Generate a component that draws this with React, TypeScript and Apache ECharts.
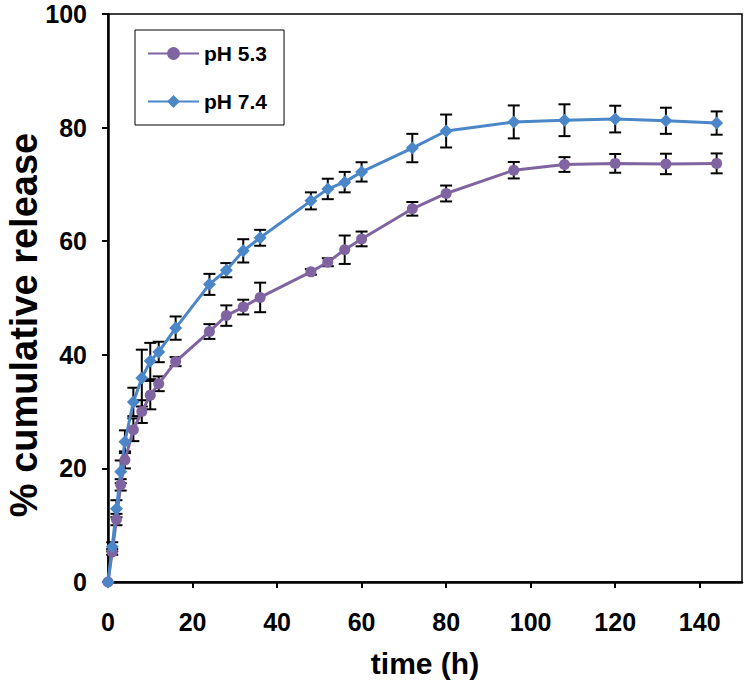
import React, { useEffect, useRef } from "react";
import * as echarts from "echarts";

const times = [0, 1, 2, 3, 4, 6, 8, 10, 12, 16, 24, 28, 32, 36, 48, 52, 56, 60, 72, 80, 96, 108, 120, 132, 144];
const ph53 = [0, 5.3, 11.0, 17.1, 21.5, 26.8, 30.0, 32.9, 34.9, 38.8, 44.1, 46.9, 48.4, 50.1, 54.6, 56.3, 58.5, 60.4, 65.7, 68.4, 72.5, 73.5, 73.7, 73.6, 73.7];
const ph53Err = [0, 0.5, 1.0, 1.0, 1.5, 2.0, 2.0, 2.5, 1.3, 0.8, 1.3, 1.8, 1.3, 2.6, 0.5, 0.7, 2.5, 1.3, 1.2, 1.4, 1.45, 1.3, 1.65, 1.8, 1.75];
const ph74 = [0, 6.2, 12.9, 19.4, 24.7, 31.7, 35.9, 38.9, 40.5, 44.7, 52.4, 54.9, 58.3, 60.6, 67.1, 69.2, 70.4, 72.2, 76.4, 79.4, 81.0, 81.3, 81.5, 81.2, 80.8];
const ph74Err = [0, 0.8, 1.5, 2.0, 2.0, 2.5, 5.0, 3.2, 1.8, 2.05, 1.85, 1.25, 2.05, 1.4, 1.5, 1.8, 1.8, 1.7, 2.5, 2.9, 2.9, 2.8, 2.35, 2.3, 2.05];
const xTicks = [0, 20, 40, 60, 80, 100, 120, 140];
const yTicks = [0, 20, 40, 60, 80, 100];

const PURPLE = "#8064A2";
const BLUE = "#4A86C8";
const FONT = "Liberation Sans, Arial, sans-serif";

function errorSeries(name: string, vals: number[], errs: number[]) {
  const data = times.map((t, i) => [t, vals[i] - errs[i], vals[i] + errs[i]]);
  return {
    type: "custom",
    name: name + " err",
    z: 1,
    silent: true,
    data,
    renderItem: (params: any, api: any) => {
      const x = api.value(0);
      const lo = api.coord([x, api.value(1)]);
      const hi = api.coord([x, api.value(2)]);
      const half = 6;
      const style = { stroke: "#000", lineWidth: 2 };
      return {
        type: "group",
        children: [
          { type: "line", shape: { x1: lo[0], y1: lo[1], x2: hi[0], y2: hi[1] }, style },
          { type: "line", shape: { x1: lo[0] - half, y1: lo[1], x2: lo[0] + half, y2: lo[1] }, style },
          { type: "line", shape: { x1: hi[0] - half, y1: hi[1], x2: hi[0] + half, y2: hi[1] }, style },
        ],
      };
    },
  };
}

export default function App() {
  const ref = useRef<HTMLDivElement>(null);
  useEffect(() => {
    if (!ref.current) return;
    const chart = echarts.init(ref.current, null, { renderer: "svg" });
    chart.setOption({
      animation: false,
      backgroundColor: "#fff",
      textStyle: { fontFamily: FONT },
      grid: {
        left: 108,
        right: 8,
        top: 14,
        bottom: 109,
        show: true,
        borderColor: "#000",
        borderWidth: 1.5,
        containLabel: false,
      },
      legend: {
        orient: "vertical",
        left: 135,
        top: 30,
        borderColor: "#000",
        borderWidth: 1,
        padding: [13, 17, 13, 12],
        itemWidth: 51,
        itemHeight: 16,
        itemGap: 27,
        textStyle: { fontFamily: FONT, fontWeight: "bold", fontSize: 21, color: "#000" },
        data: ["pH 5.3", "pH 7.4"],
      },
      xAxis: {
        type: "value",
        min: 0,
        max: 150,
        interval: 20,
        name: "time (h)",
        nameLocation: "middle",
        nameGap: 66,
        nameTextStyle: { fontFamily: FONT, fontWeight: "bold", fontSize: 30, color: "#000" },
        axisLine: { show: true, lineStyle: { color: "#000", width: 2.5 } },
        axisTick: { show: true, length: 6, lineStyle: { color: "#000", width: 2 }, customValues: xTicks },
        axisLabel: {
          fontFamily: FONT,
          fontWeight: "bold",
          fontSize: 25,
          color: "#000",
          margin: 27,
          customValues: xTicks,
        },
        splitLine: { show: false },
      },
      yAxis: {
        type: "value",
        min: 0,
        max: 100,
        interval: 20,
        axisLine: { show: true, lineStyle: { color: "#000", width: 2.5 } },
        axisTick: { show: true, length: 6, lineStyle: { color: "#000", width: 2 } },
        axisLabel: {
          fontFamily: FONT,
          fontWeight: "bold",
          fontSize: 25,
          color: "#000",
          margin: 21,
          formatter: (v: number) => (yTicks.includes(v) ? String(v) : ""),
        },
        splitLine: { show: false },
      },
      graphic: [
        {
          type: "text",
          x: 24,
          y: 325,
          rotation: Math.PI / 2,
          style: {
            text: "% cumulative release",
            fontFamily: FONT,
            fontWeight: "bold",
            fontSize: 38,
            fill: "#000",
            align: "center",
            verticalAlign: "middle",
          },
        },
      ],
      series: [
        errorSeries("pH 5.3", ph53, ph53Err),
        errorSeries("pH 7.4", ph74, ph74Err),
        {
          type: "line",
          name: "pH 5.3",
          z: 3,
          data: times.map((t, i) => [t, ph53[i]]),
          symbol: "circle",
          symbolSize: 11,
          lineStyle: { color: PURPLE, width: 3 },
          itemStyle: { color: PURPLE },
        },
        {
          type: "line",
          name: "pH 7.4",
          z: 3,
          data: times.map((t, i) => [t, ph74[i]]),
          symbol: "diamond",
          symbolSize: 13,
          lineStyle: { color: BLUE, width: 3 },
          itemStyle: { color: BLUE },
        },
      ],
    });
    return () => chart.dispose();
  }, []);
  return (
    <div
      ref={ref}
      style={{ position: "absolute", left: 0, top: 0, width: 750, height: 691 }}
    />
  );
}
